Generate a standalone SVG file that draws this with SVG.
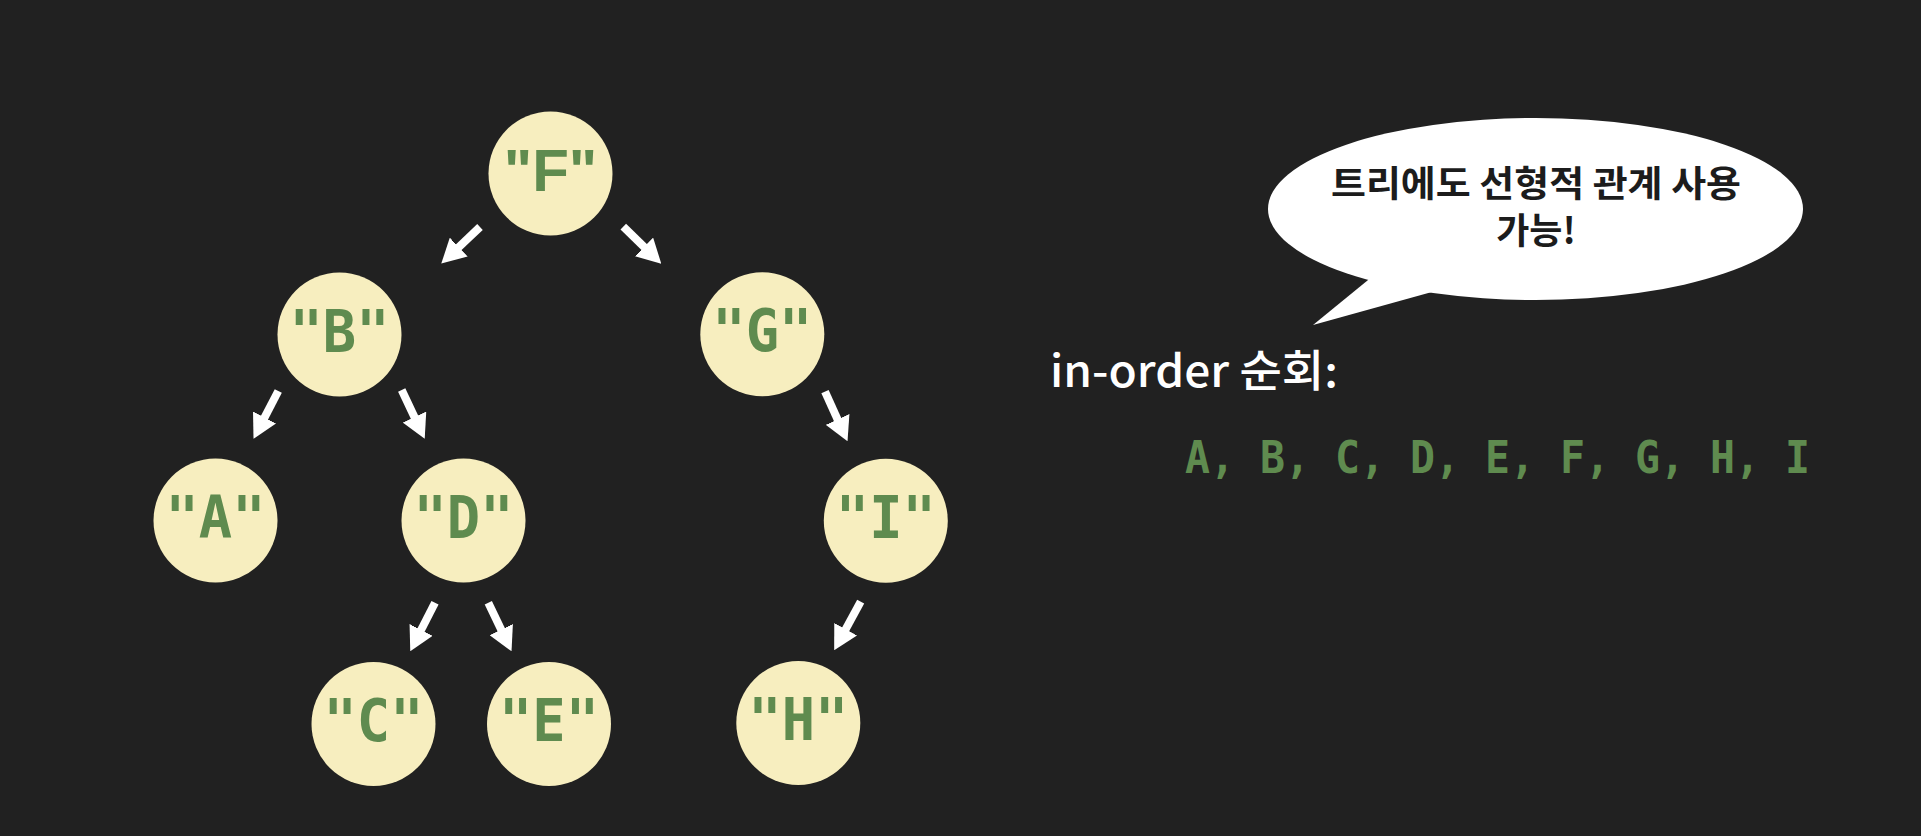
<svg xmlns="http://www.w3.org/2000/svg" width="1921" height="836" viewBox="0 0 1921 836">
  <style>
    .node circle { fill: #f7eebf; }
    .node text { font-family: "DejaVu Sans Mono", "Liberation Mono", monospace; font-weight: bold; font-size: 59px; fill: #5f8b4f; text-anchor: middle; }
    .edge { stroke: #ffffff; stroke-width: 8; fill: none; marker-end: url(#head); }
    .bubble-text { font-family: "Noto Sans CJK KR", "Noto Sans", sans-serif; font-weight: bold; font-size: 36px; fill: #1c1c1c; text-anchor: middle; }
    .label { font-family: "Noto Sans CJK KR", "Noto Sans", sans-serif; font-weight: 500; font-size: 44px; fill: #ffffff; }
    .seq { font-family: "DejaVu Sans Mono", "Liberation Mono", monospace; font-weight: bold; font-size: 44px; fill: #5f8b4f; }
  </style>
  <defs>
    <marker id="head" viewBox="0 0 24 26" refX="1" refY="13" markerWidth="24" markerHeight="26" markerUnits="userSpaceOnUse" orient="auto">
      <path d="M0,0 L24,13 L0,26 Z" fill="#ffffff"/>
    </marker>
  </defs>
  <rect x="0" y="0" width="1921" height="836" fill="#212121"/>

  <g id="connectors">
    <line class="edge" x1="480" y1="227" x2="458" y2="247.8"/>
    <line class="edge" x1="623.3" y1="226.7" x2="644.8" y2="247.6"/>
    <line class="edge" x1="278.3" y1="391" x2="264.1" y2="418.4"/>
    <line class="edge" x1="401.7" y1="390" x2="414.9" y2="418"/>
    <line class="edge" x1="435" y1="602.7" x2="420.7" y2="630.8"/>
    <line class="edge" x1="488.3" y1="602.7" x2="501.6" y2="630.5"/>
    <line class="edge" x1="825" y1="391.7" x2="838" y2="420.3"/>
    <line class="edge" x1="860.7" y1="601.7" x2="845.2" y2="630.1"/>
  </g>

  <g id="node-F" class="node">
    <circle cx="550.5" cy="173.5" r="62"/>
    <text x="550.5" y="190.5" style="font-family: 'Liberation Sans', Arial, sans-serif; font-size: 60px;">"F"</text>
  </g>
  <g id="node-B" class="node">
    <circle cx="339.5" cy="334.5" r="62"/>
    <text x="339.5" y="351.5" textLength="100" lengthAdjust="spacingAndGlyphs">"B"</text>
  </g>
  <g id="node-G" class="node">
    <circle cx="762.3" cy="334.3" r="62"/>
    <text x="762.3" y="351.3" textLength="100" lengthAdjust="spacingAndGlyphs">"G"</text>
  </g>
  <g id="node-A" class="node">
    <circle cx="215.5" cy="520.5" r="62"/>
    <text x="215.5" y="537.5" textLength="100" lengthAdjust="spacingAndGlyphs">"A"</text>
  </g>
  <g id="node-D" class="node">
    <circle cx="463.5" cy="520.5" r="62"/>
    <text x="463.5" y="537.5" textLength="100" lengthAdjust="spacingAndGlyphs">"D"</text>
  </g>
  <g id="node-I" class="node">
    <circle cx="885.8" cy="520.8" r="62"/>
    <text x="885.8" y="537.8" textLength="100" lengthAdjust="spacingAndGlyphs">"I"</text>
  </g>
  <g id="node-C" class="node">
    <circle cx="373.5" cy="724" r="62"/>
    <text x="373.5" y="741" textLength="100" lengthAdjust="spacingAndGlyphs">"C"</text>
  </g>
  <g id="node-E" class="node">
    <circle cx="549" cy="724" r="62"/>
    <text x="549" y="741" textLength="100" lengthAdjust="spacingAndGlyphs">"E"</text>
  </g>
  <g id="node-H" class="node">
    <circle cx="798.3" cy="723" r="62"/>
    <text x="798.3" y="740" textLength="100" lengthAdjust="spacingAndGlyphs">"H"</text>
  </g>

  <g id="bubble">
    <ellipse cx="1535.5" cy="209" rx="267.5" ry="91" fill="#ffffff"/>
    <polygon points="1380,270.2 1313,325 1440,289.7" fill="#ffffff"/>
    <text class="bubble-text" x="1536" y="197" textLength="410" lengthAdjust="spacingAndGlyphs">트리에도 선형적 관계 사용</text>
    <text class="bubble-text" x="1536" y="244">가능!</text>
  </g>

  <g id="inorder">
    <text class="label" x="1050" y="387" textLength="288" lengthAdjust="spacingAndGlyphs">in-order 순회:</text>
    <text class="seq" x="1185" y="473" textLength="625" lengthAdjust="spacingAndGlyphs" xml:space="preserve">A, B, C, D, E, F, G, H, I</text>
  </g>
</svg>
